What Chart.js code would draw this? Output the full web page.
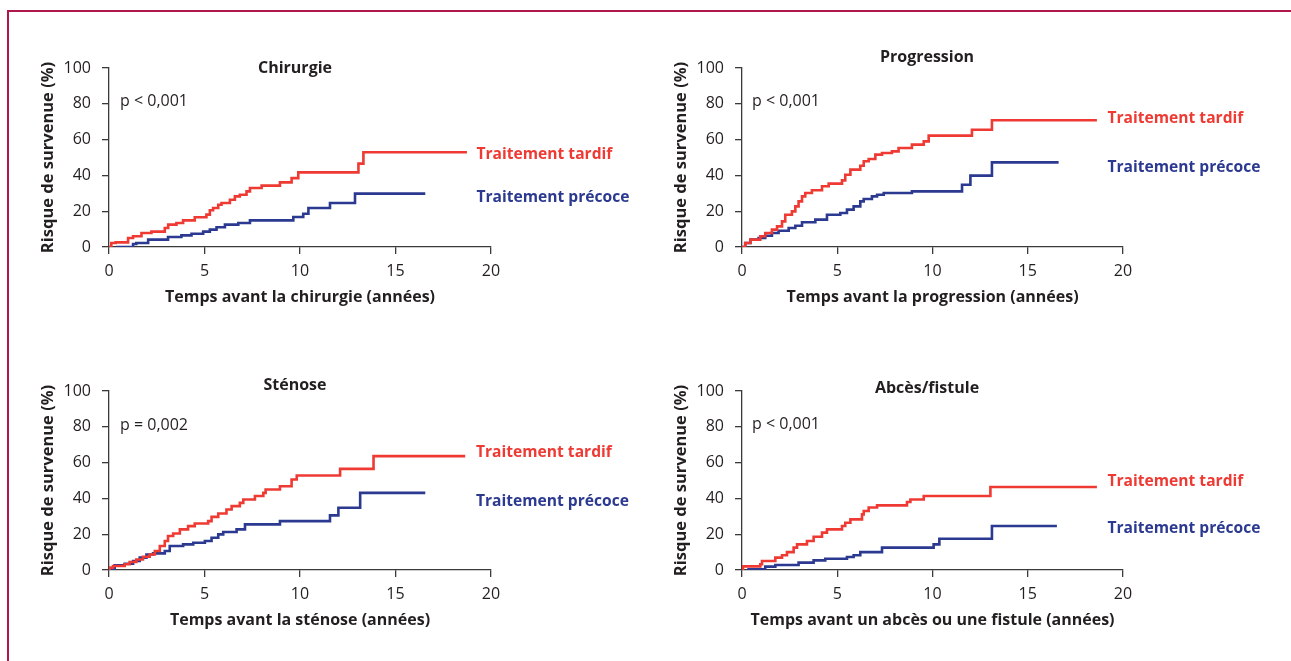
<!DOCTYPE html>
<html><head><meta charset="utf-8">
<script src="https://cdn.jsdelivr.net/npm/chart.js@4.4.1/dist/chart.umd.min.js"></script>
<style>
html,body{margin:0;padding:0;background:#fff;}
body{width:1291px;height:661px;position:relative;overflow:hidden;}
#frame{position:absolute;left:7px;top:10px;width:1300px;height:670px;border-top:2px solid #b0174a;border-left:2px solid #b0174a;}
canvas{position:absolute;}
</style></head><body>
<div id="frame"></div>
<canvas id="c1" width="625" height="290" style="left:20px;top:40px"></canvas>
<canvas id="c2" width="625" height="290" style="left:653px;top:40px"></canvas>
<canvas id="c3" width="625" height="290" style="left:20px;top:363px"></canvas>
<canvas id="c4" width="625" height="290" style="left:653px;top:363px"></canvas>
<script>
// ---- texts ----
const panelTitles = ['Chirurgie', 'Progression', 'Sténose', 'Abcès/fistule'];
const pValues = ['p < 0,001', 'p < 0,001', 'p = 0,002', 'p < 0,001'];
const xTitles = ['Temps avant la chirurgie (années)', 'Temps avant la progression (années)', 'Temps avant la sténose (années)', 'Temps avant un abcès ou une fistule (années)'];
const yTitle = 'Risque de survenue (%)';
const seriesNames = ['Traitement tardif', 'Traitement précoce'];
const xTickValues = [0, 5, 10, 15, 20];
const yTickValues = [0, 20, 40, 60, 80, 100];

// ---- data (time in years, cumulative risk in %) ----
const chirTardifT = [0, 0.12, 0.35, 1.0, 1.26, 1.7, 2.22, 2.92, 3.1, 3.53, 3.88, 4.49, 5.1, 5.28, 5.45, 5.72, 5.89, 6.33, 6.59, 6.85, 7.2, 7.38, 7.99, 8.95, 9.56, 9.91, 13.06, 13.32, 18.74];
const chirTardifV = [0, 2.2, 2.6, 5.0, 6.0, 7.8, 8.6, 10.6, 12.5, 13.4, 14.9, 16.6, 18.1, 20.5, 21.8, 23.6, 24.6, 26.4, 28.3, 29.2, 31.1, 33.0, 34.3, 36.1, 38.5, 41.7, 46.6, 52.9, 52.9];
const chirPrecoceT = [0.38, 1.26, 1.43, 2.05, 3.09, 3.79, 4.32, 4.93, 5.28, 5.63, 6.07, 6.77, 7.38, 9.65, 10.17, 10.44, 11.57, 12.88, 16.56];
const chirPrecoceV = [0, 1.7, 2.2, 4.1, 5.6, 6.5, 7.4, 8.6, 9.7, 11.0, 12.5, 13.4, 14.9, 16.8, 18.6, 21.8, 24.6, 29.8, 29.8];

const progTardifT = [0, 0.17, 0.44, 0.96, 1.22, 1.57, 1.84, 2.1, 2.27, 2.62, 2.8, 2.97, 3.15, 3.32, 3.67, 4.2, 4.55, 5.25, 5.42, 5.69, 6.21, 6.39, 6.65, 7.0, 7.35, 7.87, 8.22, 8.92, 9.54, 9.8, 12.07, 13.12, 18.63];
const progTardifV = [0, 2.2, 4.1, 6.0, 7.8, 9.7, 11.5, 14.3, 18.0, 19.9, 22.7, 25.5, 28.3, 30.2, 31.7, 33.9, 35.4, 37.2, 40.4, 43.2, 45.4, 47.9, 49.2, 51.6, 52.5, 53.4, 55.3, 57.2, 59.0, 62.2, 65.5, 70.8, 70.8];
const progPrecoceT = [0, 0.17, 0.44, 0.87, 1.22, 1.57, 1.92, 2.45, 2.8, 3.15, 3.85, 4.46, 5.16, 5.51, 5.86, 6.21, 6.39, 6.82, 7.09, 7.44, 8.92, 11.55, 11.99, 13.12, 16.62];
const progPrecoceV = [0, 2.2, 4.1, 5.0, 6.3, 7.8, 9.1, 10.6, 11.9, 13.8, 15.3, 18.0, 19.0, 20.9, 22.7, 25.5, 26.8, 28.3, 29.2, 30.2, 31.1, 34.8, 39.9, 47.3, 47.3];

const stenTardifT = [0, 0.03, 0.21, 0.82, 1.08, 1.43, 1.78, 2.13, 2.4, 2.66, 2.92, 3.09, 3.36, 3.71, 4.14, 4.49, 5.19, 5.37, 5.72, 6.15, 6.42, 6.85, 7.03, 7.64, 8.08, 8.2, 8.95, 9.56, 9.83, 12.1, 13.85, 18.65];
const stenTardifV = [0, 1.3, 2.2, 3.2, 4.5, 5.9, 7.4, 8.7, 10.6, 13.4, 16.2, 19.0, 20.4, 22.7, 24.5, 26.0, 27.3, 29.7, 31.6, 33.8, 35.7, 37.5, 39.4, 41.3, 43.1, 45.0, 46.8, 50.6, 52.8, 56.5, 63.6, 63.6];
const stenPrecoceT = [0, 0.03, 0.3, 0.82, 1.26, 1.61, 1.96, 2.31, 2.92, 3.18, 3.88, 4.41, 5.02, 5.37, 5.72, 5.98, 6.68, 7.12, 8.95, 11.57, 12.01, 13.15, 16.56];
const stenPrecoceV = [0, 0.7, 2.6, 3.5, 5.0, 6.9, 8.7, 9.3, 10.6, 13.4, 14.3, 15.2, 16.2, 18.0, 19.9, 21.2, 22.7, 25.5, 27.3, 30.5, 34.8, 43.1, 43.1];

const abcesTardifT = [0, 0.05, 0.96, 1.05, 1.75, 2.1, 2.36, 2.71, 2.89, 3.41, 3.76, 4.2, 4.46, 5.25, 5.42, 5.69, 6.3, 6.39, 6.65, 7.09, 8.66, 8.84, 9.54, 13.04, 18.63];
const abcesTardifV = [0, 2.0, 3.2, 5.0, 6.9, 8.2, 10.0, 12.5, 14.3, 16.2, 18.6, 20.9, 22.7, 24.6, 26.4, 28.3, 31.1, 33.0, 34.9, 36.1, 38.0, 39.4, 41.3, 46.4, 46.4];
const abcesPrecoceT = [0.26, 0.35, 1.22, 1.75, 2.97, 3.76, 4.37, 5.51, 5.86, 6.21, 7.35, 10.06, 10.36, 13.12, 16.53];
const abcesPrecoceV = [0, 0.4, 1.9, 2.8, 4.1, 5.4, 6.3, 7.3, 8.2, 10.0, 12.5, 14.3, 17.5, 24.6, 24.6];

// ---- styling ----
const RED = '#ee3a33';
const BLUE = '#2b3990';
const AX = '#3a3a3a';
const TXT = '#231f20';
const FAM = "'Open Sans', 'Noto Sans', sans-serif";

function pts(t, v) { return t.map((x, i) => ({ x: x, y: v[i] })); }

const textPlugin = {
  id: 'panelText',
  afterDraw(chart, args, opts) {
    const c = chart.ctx;
    c.save();
    c.textBaseline = 'middle';
    (opts.items || []).forEach(it => {
      c.font = it.font;
      c.fillStyle = it.color;
      c.textAlign = it.align || 'left';
      c.fillText(it.text, it.x, it.y);
    });
    c.restore();
  }
};

function makeChart(id, i, tT, tV, pT, pV, padRight, pos) {
  const boldLbl = "bold 15.6px " + FAM;
  return new Chart(document.getElementById(id), {
    type: 'line',
    data: {
      datasets: [
        { label: seriesNames[0], data: pts(tT, tV), borderColor: RED, borderWidth: 2.6, stepped: true, pointRadius: 0, fill: false },
        { label: seriesNames[1], data: pts(pT, pV), borderColor: BLUE, borderWidth: 2.6, stepped: true, pointRadius: 0, fill: false }
      ]
    },
    options: {
      responsive: false,
      animation: false,
      devicePixelRatio: 1,
      layout: { padding: { left: 0, top: 28, right: padRight, bottom: 0 } },
      plugins: {
        legend: { display: false },
        tooltip: { enabled: false },
        panelText: {
          items: [
            { text: panelTitles[i], x: pos.title[0], y: pos.title[1], align: 'center', font: "bold 16px " + FAM, color: TXT },
            { text: pValues[i], x: pos.p[0], y: pos.p[1], font: "16px " + FAM, color: TXT },
            { text: seriesNames[0], x: pos.red[0], y: pos.red[1], font: boldLbl, color: RED },
            { text: seriesNames[1], x: pos.blue[0], y: pos.blue[1], font: boldLbl, color: BLUE }
          ]
        }
      },
      scales: {
        x: {
          type: 'linear', min: 0, max: 20,
          afterBuildTicks: s => { s.ticks = xTickValues.map(v => ({ value: v })); },
          ticks: { color: TXT, font: { family: FAM, size: 16 }, padding: 8, maxRotation: 0 },
          grid: { drawOnChartArea: false, drawTicks: true, tickLength: 7, color: AX, lineWidth: 1.3 },
          border: { display: true, color: AX, width: 1.3 },
          title: { display: true, text: xTitles[i], color: TXT, font: { family: FAM, size: 16, weight: 'bold' }, padding: { top: 0, bottom: 23 } },
          afterFit: s => { s.height = 83; }
        },
        y: {
          type: 'linear', min: 0, max: 100,
          afterBuildTicks: s => { s.ticks = yTickValues.map(v => ({ value: v })); },
          ticks: { color: TXT, font: { family: FAM, size: 16 }, padding: 11 },
          grid: { drawOnChartArea: false, drawTicks: true, tickLength: 7, color: AX, lineWidth: 1.3 },
          border: { display: true, color: AX, width: 1.3 },
          title: { display: true, text: yTitle, color: TXT, font: { family: FAM, size: 16.5, weight: 'bold' }, padding: { top: 18, bottom: 0 } },
          afterFit: s => { s.width = 89; }
        }
      }
    },
    plugins: [textPlugin]
  });
}

makeChart('c1', 0, chirTardifT, chirTardifV, chirPrecoceT, chirPrecoceV, 154,
  { title: [275, 28.5], p: [100, 61.5], red: [456.5, 115], blue: [456.5, 157.5] });
makeChart('c2', 1, progTardifT, progTardifV, progPrecoceT, progPrecoceV, 155,
  { title: [274, 17], p: [99, 61.5], red: [454.5, 78.3], blue: [454.5, 127.3] });
makeChart('c3', 2, stenTardifT, stenTardifV, stenPrecoceT, stenPrecoceV, 154,
  { title: [275, 22.5], p: [100, 62.5], red: [456, 90], blue: [456, 138.3] });
makeChart('c4', 3, abcesTardifT, abcesTardifV, abcesPrecoceT, abcesPrecoceV, 155,
  { title: [274, 25], p: [99, 61.7], red: [454.5, 118.3], blue: [454.5, 165.7] });
</script>
</body></html>
